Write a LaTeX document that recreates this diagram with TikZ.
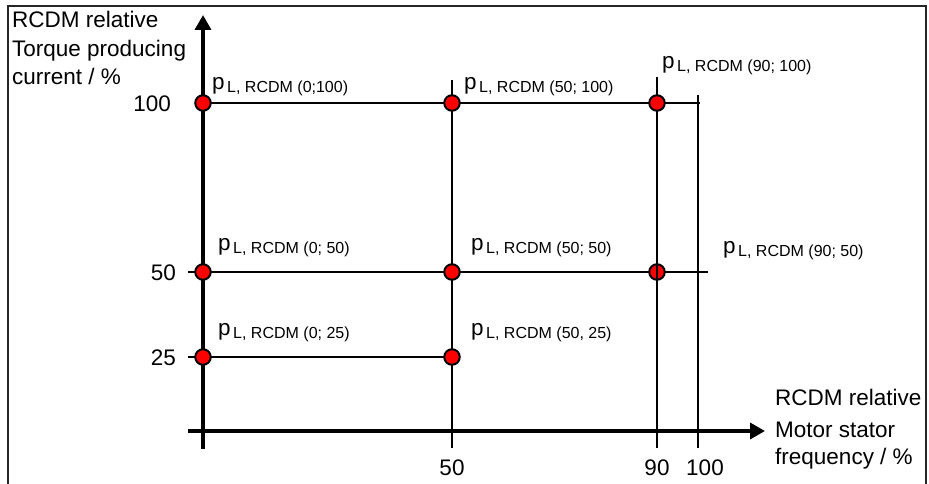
\documentclass[tikz,border=0pt]{standalone}
\usepackage{fontspec}
\setmainfont{Liberation Sans}
\usetikzlibrary{arrows.meta}
\newcommand{\pLabel}[1]{{\fontsize{22.5}{22.5}\selectfont p}\hspace{2.5pt}\raisebox{-3pt}{\fontsize{16}{16}\selectfont L, RCDM #1}}
\begin{document}
\begin{tikzpicture}[x=1pt,y=-1pt,
  axisline/.style={line width=3.5pt, -{Triangle[length=15pt,width=16pt]}},
  gridline/.style={line width=2pt},
  dot/.style={circle, fill=red, draw=black, line width=2pt, minimum size=15.5pt, inner sep=0pt},
  txt/.style={inner sep=0pt, font=\fontsize{22.5}{22.5}\selectfont},
  plab/.style={anchor=base west, inner sep=0pt},
  frameline/.style={line width=1.5pt, draw=black!85}]
\useasboundingbox (0,0) rectangle (929,484);
% frame
\coordinate (fbl) at (8,484);
\coordinate (ftl) at (8,6);
\coordinate (ftr) at (926,6);
\coordinate (fbr) at (926,484);
\draw[frameline] (fbl) -- (ftl) -- (ftr) -- (fbr);
% coordinates
\coordinate (h100s) at (203,103);
\coordinate (h100e) at (700,103);
\coordinate (h50s) at (188,272);
\coordinate (h50e) at (708,272);
\coordinate (h25s) at (188,357);
\coordinate (h25e) at (452,357);
\coordinate (v50t) at (452,80);
\coordinate (v50b) at (452,448);
\coordinate (v90t) at (657,77);
\coordinate (v90b) at (657,448);
\coordinate (v100t) at (698,95);
\coordinate (v100b) at (698,448);
\coordinate (yb) at (203,449);
\coordinate (yt) at (203,15);
\coordinate (xl) at (188,431);
\coordinate (xr) at (765,431);
% grid
\draw[gridline] (h100s) -- (h100e);
\draw[gridline] (h50s) -- (h50e);
\draw[gridline] (h25s) -- (h25e);
\draw[gridline] (v50t) -- (v50b);
\draw[gridline] (v90t) -- (v90b);
\draw[gridline] (v100t) -- (v100b);
% axes
\draw[axisline] (yb) -- (yt);
\draw[axisline] (xl) -- (xr);
% dots
\node[dot] (d0-100) at (203,103) {};
\node[dot] (d50-100) at (452,103) {};
\node[dot] (d90-100) at (657,103) {};
\node[dot] (d0-50) at (203,272) {};
\node[dot] (d50-50) at (452,272) {};
\node[dot] (d90-50) at (657,272) {};
\node[dot] (d0-25) at (203,357) {};
\node[dot] (d50-25) at (452,357) {};
\draw[gridline] (d90-50.north) -- (d90-50.south);
% point labels
\node[plab] (l0-100) at (212,90) {\pLabel{(0;100)}};
\node[plab] (l50-100) at (464,90) {\pLabel{(50; 100)}};
\node[plab] (l90-100) at (662,69) {\pLabel{(90; 100)}};
\node[plab] (l0-50) at (218,250) {\pLabel{(0; 50)}};
\node[plab] (l50-50) at (471,250) {\pLabel{(50; 50)}};
\node[plab] (l90-50) at (723,253) {\pLabel{(90; 50)}};
\node[plab] (l0-25) at (218,335) {\pLabel{(0; 25)}};
\node[plab] (l50-25) at (471,335) {\pLabel{(50, 25)}};
% y axis title
\node[txt, anchor=base west] (yt1) at (12,28) {RCDM relative};
\node[txt, anchor=base west] (yt2) at (12,57) {Torque producing};
\node[txt, anchor=base west] (yt3) at (12,85) {current / \%};
% x axis title
\node[txt, anchor=base west] (xt1) at (775,405) {RCDM relative};
\node[txt, anchor=base west] (xt2) at (775,437) {Motor stator};
\node[txt, anchor=base west] (xt3) at (775,464) {frequency / \%};
% tick labels
\node[txt, anchor=base east] (t100) at (171,112) {100};
\node[txt, anchor=base east] (t50) at (176,280) {50};
\node[txt, anchor=base east] (t25) at (176,365) {25};
\node[txt, anchor=base] (b50) at (452,475) {50};
\node[txt, anchor=base] (b90) at (657,475) {90};
\node[txt, anchor=base] (b100) at (705,475) {100};
\end{tikzpicture}
\end{document}
